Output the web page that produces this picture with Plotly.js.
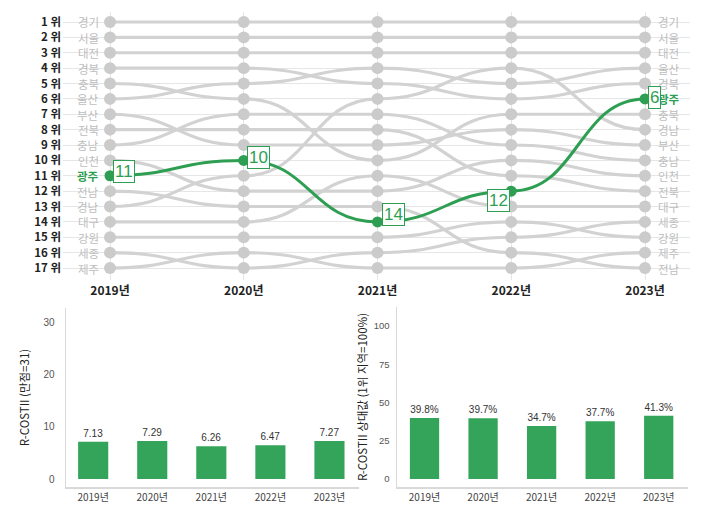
<!DOCTYPE html>
<html>
<head>
<meta charset="utf-8">
<script src="https://cdn.plot.ly/plotly-3.0.1.min.js"></script>
<style>
html,body{margin:0;padding:0;background:#fff;}
#chart{width:711px;height:508px;}
</style>
</head>
<body>
<div id="chart"></div>
<script>
// ---------------- DATA ----------------
const years = ['2019년', '2020년', '2021년', '2022년', '2023년'];
const regions = ['경기', '서울', '대전', '경북', '충북', '울산', '부산', '전북', '충남', '인천', '광주', '전남', '경남', '대구', '강원', '세종', '제주'];
const rank2019 = [1, 2, 3, 4, 5, 6, 7, 8, 9, 10, 11, 12, 13, 14, 15, 16, 17];
const rank2020 = [1, 2, 3, 4, 6, 5, 9, 8, 7, 12, 10, 13, 11, 14, 15, 17, 16];
const rank2021 = [1, 2, 3, 5, 10, 4, 9, 8, 7, 12, 14, 13, 6, 11, 15, 16, 17];
const rank2022 = [1, 2, 3, 6, 7, 5, 8, 11, 9, 10, 12, 16, 4, 13, 14, 15, 17];
const rank2023 = [1, 2, 3, 5, 7, 4, 9, 12, 10, 11, 6, 17, 8, 13, 15, 14, 16];
const rankTickLabels = ['1 위', '2 위', '3 위', '4 위', '5 위', '6 위', '7 위', '8 위', '9 위', '10 위', '11 위', '12 위', '13 위', '14 위', '15 위', '16 위', '17 위'];
const highlightRegion = '광주';

const barYears = ['2019년', '2020년', '2021년', '2022년', '2023년'];
const scoreValues = [7.13, 7.29, 6.26, 6.47, 7.27];
const relativeValues = [39.8, 39.7, 34.7, 37.7, 41.3];

// ---------------- STYLE ----------------
const GREEN = '#2e9f52';
const BAR_GREEN = '#34a45a';
const GRAY_LINE = '#d2d2d2';
const GRAY_MARK = '#cbcbcb';
const LABEL_GRAY = '#bdbdbd';
const KFONT = '"Noto Sans CJK KR", "Noto Sans", sans-serif';
const NFONT = '"Liberation Sans", Arial, sans-serif';

const W = 711, H = 508;
const px = (a, b) => [a / W, b / W];
const py = (top, bottom) => [1 - bottom / H, 1 - top / H];

const allRanks = [rank2019, rank2020, rank2021, rank2022, rank2023];
const yearIdx = years.map((_, i) => i);

const traces = [];
const shapes = [];
const annotations = [];
const hiIdx = regions.indexOf(highlightRegion);

function curvePath(x0, y0, x1, y1) {
  const xm = (x0 + x1) / 2;
  return `M ${x0},${y0} C ${xm},${y0} ${xm},${y1} ${x1},${y1}`;
}

const order = regions.map((_, i) => i).filter(i => i !== hiIdx).concat([hiIdx]);
order.forEach(r => {
  const hi = r === hiIdx;
  for (let k = 0; k < years.length - 1; k++) {
    shapes.push({
      type: 'path', xref: 'x', yref: 'y', layer: 'between',
      path: curvePath(k, allRanks[k][r], k + 1, allRanks[k + 1][r]),
      line: { color: hi ? GREEN : GRAY_LINE, width: hi ? 3 : 3.2 }
    });
  }
});

order.forEach(r => {
  const hi = r === hiIdx;
  traces.push({
    type: 'scatter', mode: 'markers', xaxis: 'x', yaxis: 'y',
    x: yearIdx, y: allRanks.map(a => a[r]),
    marker: { color: hi ? GREEN : GRAY_MARK, size: hi ? 11 : 12, line: { width: 0 } },
    hoverinfo: 'skip', showlegend: false
  });
});

regions.forEach((name, r) => {
  const hi = r === hiIdx;
  const f = { family: KFONT, size: 11.5, color: hi ? GREEN : LABEL_GRAY };
  annotations.push({
    xref: 'x', yref: 'y', x: 0, y: rank2019[r], text: hi ? '<b>' + name + '</b>' : name,
    showarrow: false, xanchor: 'right', yanchor: 'middle', xshift: -9, font: f, height: 13, valign: 'middle'
  });
  annotations.push({
    xref: 'x', yref: 'y', x: years.length - 1, y: rank2023[r], text: hi ? '<b>' + name + '</b>' : name,
    showarrow: false, xanchor: 'left', yanchor: 'middle', xshift: 11, font: f, height: 13, valign: 'middle'
  });
});

const boxOffsets = [
  { xanchor: 'left', xshift: 3, yshift: 4 },
  { xanchor: 'left', xshift: 3, yshift: 3 },
  { xanchor: 'left', xshift: 4, yshift: 7 },
  { xanchor: 'right', xshift: -1, yshift: -9 },
  { xanchor: 'left', xshift: 3, yshift: 1 }
];
yearIdx.forEach(k => {
  const v = allRanks[k][hiIdx];
  annotations.push(Object.assign({
    xref: 'x', yref: 'y', x: k, y: v, text: String(v), showarrow: false, yanchor: 'middle',
    bgcolor: 'rgba(255,255,255,0.95)', bordercolor: GREEN, borderwidth: 1, borderpad: 1,
    font: { family: NFONT, size: 17, color: GREEN }
  }, boxOffsets[k]));
});

traces.push({
  type: 'bar', xaxis: 'x2', yaxis: 'y2', x: barYears, y: scoreValues,
  marker: { color: BAR_GREEN }, width: 0.51,
  text: scoreValues.map(v => v.toFixed(2)), textposition: 'outside', cliponaxis: false,
  textfont: { family: NFONT, size: 10, color: '#333' },
  hoverinfo: 'skip', showlegend: false
});
traces.push({
  type: 'bar', xaxis: 'x3', yaxis: 'y3', x: barYears, y: relativeValues,
  marker: { color: BAR_GREEN }, width: 0.5,
  text: relativeValues.map(v => v.toFixed(1) + '%'), textposition: 'outside', cliponaxis: false,
  textfont: { family: NFONT, size: 10, color: '#333' },
  hoverinfo: 'skip', showlegend: false
});

const xTop0 = 110, xTop4 = 645, plotL = 63, plotR = 690;
const unit = (xTop4 - xTop0) / 4;
const yR1 = 22, yR17 = 268, plotT = 12, plotB = 280;
const runit = (yR17 - yR1) / 16;

const layout = {
  width: W, height: H,
  margin: { l: 0, r: 0, t: 0, b: 0 },
  paper_bgcolor: '#fff', plot_bgcolor: '#fff',
  font: { family: KFONT },
  showlegend: false,
  xaxis: {
    domain: px(plotL, plotR),
    range: [-(xTop0 - plotL) / unit, 4 + (plotR - xTop4) / unit],
    tickvals: yearIdx, ticktext: years.map(t => '<b>' + t + '</b>'),
    tickfont: { family: KFONT, size: 12, color: '#222' },
    showgrid: true, gridcolor: '#e6e6e6', gridwidth: 1,
    zeroline: false, showline: false, ticks: '', ticklabelstandoff: 2,
    fixedrange: true
  },
  yaxis: {
    domain: py(plotT, plotB),
    range: [17 + (plotB - yR17) / runit, 1 - (yR1 - plotT) / runit],
    tickvals: rankTickLabels.map((_, i) => i + 1), ticktext: rankTickLabels.map(t => '<b>' + t + '</b>'),
    tickfont: { family: KFONT, size: 11.5, color: '#222' },
    showgrid: true, gridcolor: '#e6e6e6', gridwidth: 1,
    zeroline: false, showline: false, ticks: '', ticklabelstandoff: 1,
    fixedrange: true
  },
  xaxis2: {
    anchor: 'y2', domain: px(66, 359), range: [-0.46, 4.5], type: 'category',
    tickfont: { family: KFONT, size: 10, color: '#444' },
    showline: true, linecolor: '#d9d9d9', linewidth: 1.5, ticks: '', showgrid: false, zeroline: false
  },
  yaxis2: {
    anchor: 'x2', domain: py(308, 487), range: [-1.53, 32.7],
    tickvals: [0, 10, 20, 30], tickfont: { family: NFONT, size: 10, color: '#555' },
    showline: true, linecolor: '#d9d9d9', linewidth: 1.5, ticks: '', showgrid: false, zeroline: false,
    ticklabelstandoff: 8,
    title: { text: 'R-COSTII (만점=31)', font: { family: KFONT, size: 11.5, color: '#222' }, standoff: 11 }
  },
  xaxis3: {
    anchor: 'y3', domain: px(397, 688), range: [-0.47, 4.5], type: 'category',
    tickfont: { family: KFONT, size: 10, color: '#444' },
    showline: true, linecolor: '#d9d9d9', linewidth: 1.5, ticks: '', showgrid: false, zeroline: false
  },
  yaxis3: {
    anchor: 'x3', domain: py(307, 487), range: [-5.2, 112.4],
    tickvals: [0, 25, 50, 75, 100], tickfont: { family: NFONT, size: 9.5, color: '#555' },
    showline: true, linecolor: '#d9d9d9', linewidth: 1.5, ticks: '', showgrid: false, zeroline: false,
    ticklabelstandoff: 4,
    title: { text: 'R-COSTII 상대값 (1위 지역=100%)', font: { family: KFONT, size: 11.5, color: '#222' }, standoff: 3 }
  },
  shapes: shapes,
  annotations: annotations
};

Plotly.newPlot('chart', traces, layout, { staticPlot: true, displayModeBar: false });
</script>
</body>
</html>
